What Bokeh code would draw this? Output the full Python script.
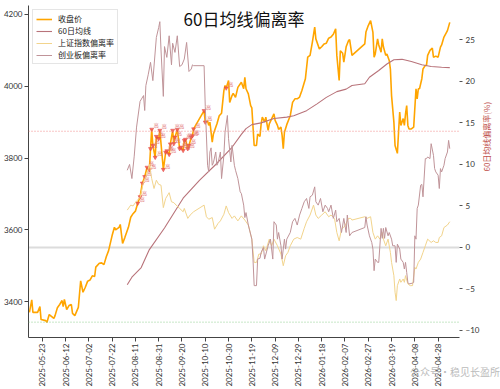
from math import pi
import numpy as np
import pandas as pd
from bokeh.plotting import figure
from bokeh.layouts import column
from bokeh.models import (Range1d, LinearAxis, FixedTicker, DatetimeTickFormatter,
                          Span, Label, Legend, LegendItem, Div)
from bokeh.core.properties import value
from bokeh.embed import file_html
from bokeh.resources import INLINE

# ---------------- data ----------------
close_dates = [
    "2025-05-12","2025-05-14","2025-05-15","2025-05-19","2025-05-21","2025-05-22","2025-05-26","2025-05-27","2025-05-29","2025-06-02",
    "2025-06-03","2025-06-05","2025-06-07","2025-06-09","2025-06-10","2025-06-11","2025-06-13","2025-06-15","2025-06-17","2025-06-18",
    "2025-06-20","2025-06-23","2025-06-25","2025-06-27","2025-06-29","2025-07-01","2025-07-03","2025-07-05","2025-07-07","2025-07-08",
    "2025-07-11","2025-07-13","2025-07-15","2025-07-17","2025-07-19","2025-07-22","2025-07-24","2025-07-25","2025-07-28","2025-07-29",
    "2025-07-31","2025-08-02","2025-08-05","2025-08-07","2025-08-09","2025-08-11","2025-08-13","2025-08-15","2025-08-17","2025-08-19",
    "2025-08-21","2025-08-23","2025-08-24","2025-08-25","2025-08-26","2025-08-28","2025-08-29","2025-08-31","2025-09-01","2025-09-04",
    "2025-09-06","2025-09-07","2025-09-09","2025-09-10","2025-09-12","2025-09-13","2025-09-14","2025-09-16","2025-09-18","2025-09-19",
    "2025-09-21","2025-09-22","2025-09-23","2025-09-25","2025-09-26","2025-09-28","2025-09-29","2025-09-30","2025-10-09","2025-10-10",
    "2025-10-12","2025-10-13","2025-10-14","2025-10-16","2025-10-17","2025-10-19","2025-10-20","2025-10-22","2025-10-24","2025-10-26",
    "2025-10-27","2025-10-28","2025-10-30","2025-10-31","2025-11-02","2025-11-03","2025-11-05","2025-11-07","2025-11-10","2025-11-12",
    "2025-11-13","2025-11-14","2025-11-16","2025-11-18","2025-11-19","2025-11-21","2025-11-23","2025-11-24","2025-11-26","2025-11-27",
    "2025-11-28","2025-11-30","2025-12-01","2025-12-03","2025-12-04","2025-12-06","2025-12-08","2025-12-09","2025-12-11","2025-12-12",
    "2025-12-14","2025-12-15","2025-12-16","2025-12-17","2025-12-19","2025-12-22","2025-12-24","2025-12-26","2025-12-28","2025-12-30",
    "2026-01-01","2026-01-04","2026-01-06","2026-01-08","2026-01-10","2026-01-12","2026-01-13","2026-01-16","2026-01-18","2026-01-20",
    "2026-01-22","2026-01-24","2026-01-26","2026-01-28","2026-01-30","2026-01-31","2026-02-02","2026-02-03","2026-02-05","2026-02-06",
    "2026-02-08","2026-02-10","2026-02-11","2026-02-13","2026-02-24","2026-02-25","2026-02-27","2026-03-01","2026-03-03","2026-03-04",
    "2026-03-05","2026-03-07","2026-03-08","2026-03-10","2026-03-11","2026-03-12","2026-03-14","2026-03-15","2026-03-17","2026-03-18",
    "2026-03-19","2026-03-21","2026-03-22","2026-03-24","2026-03-25","2026-03-26","2026-03-27","2026-03-29","2026-03-30","2026-03-31",
    "2026-04-01","2026-04-02","2026-04-03","2026-04-05","2026-04-07","2026-04-09","2026-04-10","2026-04-11","2026-04-12","2026-04-14",
    "2026-04-15","2026-04-17","2026-04-18","2026-04-19","2026-04-21","2026-04-23","2026-04-24","2026-04-26","2026-04-28","2026-04-30",
    "2026-05-01","2026-05-03","2026-05-06","2026-05-08"]
close_price = [
    3370,3405,3370,3370,3386,3350,3347,3342,3364,3353,
    3361,3383,3392,3403,3386,3406,3378,3389,3392,3367,
    3361,3384,3458,3426,3440,3457,3460,3472,3470,3496,
    3507,3508,3503,3525,3542,3584,3607,3600,3607,3615,
    3562,3579,3607,3635,3645,3652,3674,3692,3730,3748,
    3774,3767,3826,3880,3835,3802,3860,3854,3877,3768,
    3816,3820,3810,3839,3877,3840,3858,3879,3826,3830,
    3821,3849,3852,3826,3835,3858,3862,3881,3932,3900,
    3903,3891,3900,3844,3867,3886,3895,3918,3925,3988,
    4002,3995,4016,3955,3974,3980,3969,3997,4011,3993,
    4025,3993,3979,3946,3940,3835,3835,3867,3860,3895,
    3914,3900,3914,3877,3895,3909,3923,3905,3891,3880,
    3886,3863,3826,3872,3893,3918,3955,3965,3965,3970,
    3988,4021,4081,4086,4123,4165,4132,4104,4110,4118,
    4120,4134,4137,4145,4160,4086,4016,4099,4092,4067,
    4110,4127,4130,4086,4118,4151,4169,4183,4150,4081,
    4090,4132,4115,4095,4132,4110,4086,4090,4072,4048,
    3974,3900,3835,3813,3872,3928,3891,3910,3891,3923,
    3946,3891,3881,3881,3886,3993,3965,3993,3993,4021,
    4048,4058,4058,4086,4100,4106,4081,4084,4081,4109,
    4115,4137,4155,4178]

ma60_dates = ["2025-08-04","2025-08-08","2025-08-16","2025-08-23","2025-09-05","2025-09-21","2025-10-05","2025-10-19",
              "2025-11-02","2025-11-10","2025-11-14","2025-11-19","2025-11-27","2025-12-08","2025-12-19","2025-12-25",
              "2026-01-05","2026-01-14","2026-01-22","2026-01-31","2026-02-08","2026-02-13","2026-02-24","2026-02-28",
              "2026-03-08","2026-03-15","2026-03-21","2026-03-28","2026-04-05","2026-04-14","2026-04-22","2026-05-01","2026-05-08"]
ma60 = [3447,3468,3495,3545,3605,3688,3738,3782,
        3830,3866,3882,3893,3898,3910,3914,3918,
        3932,3951,3969,3985,3992,4002,4007,4025,
        4044,4062,4074,4075,4069,4060,4055,4053,4052]

sh_dates = [
    "2025-08-04","2025-08-07","2025-08-09","2025-08-12","2025-08-15","2025-08-18","2025-08-21","2025-08-23","2025-08-25","2025-08-27",
    "2025-08-29","2025-08-31","2025-09-02","2025-09-04","2025-09-06","2025-09-09","2025-09-11","2025-09-13","2025-09-15","2025-09-18",
    "2025-09-21","2025-09-22","2025-09-25","2025-09-27","2025-09-30","2025-10-09","2025-10-11","2025-10-13","2025-10-16","2025-10-18",
    "2025-10-21","2025-10-23","2025-10-26","2025-10-28","2025-10-30","2025-11-02","2025-11-04","2025-11-07","2025-11-10","2025-11-13",
    "2025-11-16","2025-11-19","2025-11-21","2025-11-23","2025-11-25","2025-11-27","2025-11-29","2025-12-01","2025-12-04","2025-12-06",
    "2025-12-08","2025-12-11","2025-12-14","2025-12-16","2025-12-18","2025-12-20","2025-12-22","2025-12-25","2025-12-28","2025-12-31",
    "2026-01-03","2026-01-05","2026-01-08","2026-01-11","2026-01-13","2026-01-15","2026-01-18","2026-01-21","2026-01-24","2026-01-26",
    "2026-01-29","2026-01-31","2026-02-02","2026-02-04","2026-02-07","2026-02-10","2026-02-12","2026-02-13","2026-02-24","2026-02-26",
    "2026-03-01","2026-03-03","2026-03-05","2026-03-07","2026-03-09","2026-03-11","2026-03-12","2026-03-14","2026-03-16","2026-03-18",
    "2026-03-19","2026-03-21","2026-03-22","2026-03-23","2026-03-24","2026-03-26","2026-03-27","2026-03-29","2026-03-30","2026-03-31",
    "2026-04-02","2026-04-04","2026-04-06","2026-04-08","2026-04-09","2026-04-11","2026-04-13","2026-04-15","2026-04-17","2026-04-19",
    "2026-04-22","2026-04-24","2026-04-26","2026-04-28","2026-04-29","2026-05-01","2026-05-03","2026-05-06","2026-05-08"]
sh_dev = [
    4.5,5.1,5.0,5.6,6.0,7.9,8.9,10.0,8.3,7.1,
    8.1,7.6,7.5,4.8,5.9,6.6,5.5,5.4,5.1,4.7,
    4.3,4.7,3.5,3.9,4.3,5.1,3.7,3.4,3.6,2.2,
    2.9,3.2,4.0,5.0,4.2,3.5,3.8,3.2,3.8,3.3,
    2.7,1.0,-1.8,-1.8,-0.8,-0.8,0.2,-0.4,1.0,0.2,
    1.0,0.2,-0.8,-2.2,-1.0,-0.6,0.2,1.0,1.2,1.0,
    2.3,3.1,3.9,5.1,3.9,3.5,3.9,4.3,3.7,3.9,
    3.5,1.8,0.8,2.2,2.6,3.5,3.5,3.3,3.7,3.5,
    3.7,1.8,1.0,1.4,1.0,1.8,1.0,0.2,1.0,-0.6,
    -1.8,-3.4,-5.4,-6.4,-4.6,-3.8,-4.2,-3.8,-4.2,-3.4,
    -4.4,-4.6,-4.6,-2.4,-2.6,-1.8,-1.4,-0.6,0.2,1.0,
    0.6,0.8,0.6,0.6,1.2,1.4,2.4,2.7,3.1]

cyb_dates = [
    "2025-08-04","2025-08-06","2025-08-08","2025-08-10","2025-08-12","2025-08-15","2025-08-18","2025-08-19","2025-08-20","2025-08-22",
    "2025-08-24","2025-08-26","2025-08-29","2025-08-31","2025-09-01","2025-09-02","2025-09-04","2025-09-05","2025-09-07","2025-09-09",
    "2025-09-11","2025-09-12","2025-09-14","2025-09-16","2025-09-18","2025-09-20","2025-09-22","2025-09-24","2025-09-26","2025-09-28",
    "2025-09-29","2025-09-30","2025-10-09","2025-10-10","2025-10-12","2025-10-13","2025-10-14","2025-10-15","2025-10-16","2025-10-17",
    "2025-10-19","2025-10-20","2025-10-21","2025-10-23","2025-10-24","2025-10-26","2025-10-27","2025-10-29","2025-10-30","2025-11-01",
    "2025-11-02","2025-11-04","2025-11-05","2025-11-07","2025-11-09","2025-11-10","2025-11-12","2025-11-13","2025-11-14","2025-11-16",
    "2025-11-19","2025-11-20","2025-11-21","2025-11-23","2025-11-24","2025-11-26","2025-11-27","2025-11-29","2025-11-30","2025-12-03",
    "2025-12-05","2025-12-07","2025-12-08","2025-12-10","2025-12-11","2025-12-12","2025-12-14","2025-12-15","2025-12-17","2025-12-18",
    "2025-12-19","2025-12-22","2025-12-24","2025-12-26","2025-12-28","2025-12-30","2026-01-01","2026-01-03","2026-01-05","2026-01-07",
    "2026-01-08","2026-01-10","2026-01-12","2026-01-13","2026-01-15","2026-01-17","2026-01-19","2026-01-21","2026-01-23","2026-01-24",
    "2026-01-26","2026-01-28","2026-01-30","2026-01-31","2026-02-02","2026-02-04","2026-02-06","2026-02-08","2026-02-09","2026-02-11",
    "2026-02-13","2026-02-24","2026-02-25","2026-02-26","2026-02-28","2026-03-02","2026-03-03","2026-03-04","2026-03-05","2026-03-07",
    "2026-03-08","2026-03-10","2026-03-11","2026-03-12","2026-03-13","2026-03-14","2026-03-16","2026-03-17","2026-03-19","2026-03-20",
    "2026-03-22","2026-03-23","2026-03-24","2026-03-26","2026-03-27","2026-03-29","2026-03-30","2026-03-31","2026-04-01","2026-04-02",
    "2026-04-03","2026-04-06","2026-04-07","2026-04-08","2026-04-09","2026-04-10","2026-04-11","2026-04-13","2026-04-14","2026-04-15",
    "2026-04-17","2026-04-18","2026-04-19","2026-04-21","2026-04-22","2026-04-24","2026-04-25","2026-04-26","2026-04-28","2026-04-29",
    "2026-04-30","2026-05-01","2026-05-03","2026-05-04","2026-05-06","2026-05-07","2026-05-08"]
cyb_dev = [
    9.3,10.0,8.3,11.0,14.5,17.6,18.3,16.5,19.5,20.8,
    22.3,20.1,25.3,26.5,27.2,23.8,18.2,24.2,22.9,25.5,
    22.0,24.6,23.5,25.5,21.8,22.0,22.7,24.7,21.2,21.5,
    22.0,21.9,21.9,17.0,9.9,9.1,11.5,12.0,9.9,10.2,
    11.5,9.9,10.2,11.5,8.3,11.1,13.9,15.9,13.1,10.3,
    12.3,9.9,9.3,8.3,6.7,6.5,5.1,3.6,4.2,2.7,
    1.0,-1.4,-4.6,-4.6,-1.4,-1.3,-0.6,0.0,-1.4,0.2,
    1.0,-1.4,3.1,2.7,1.0,1.8,0.2,-1.4,1.0,-0.2,
    1.0,1.8,3.1,3.5,2.7,3.9,4.7,5.5,5.9,4.7,
    6.1,6.3,7.3,5.5,5.1,5.9,4.3,5.1,4.7,4.3,
    5.1,3.5,4.5,3.1,3.5,1.8,3.5,1.8,3.9,1.4,
    1.8,2.4,3.7,2.7,1.4,0.6,-0.2,-2.8,-1.4,-1.8,
    -1.8,2.3,1.1,2.3,1.1,2.4,1.4,1.8,1.0,0.2,
    0.2,-1.8,0.4,-0.2,-1.4,-1.8,-2.6,-1.8,-3.0,-4.2,
    -4.4,-4.3,-4.2,1.4,1.0,4.7,5.1,7.5,7.6,6.1,
    10.7,10.7,10.9,10.7,12.5,11.1,9.5,9.1,8.7,7.1,
    9.5,9.1,9.9,10.7,11.5,12.9,11.9]

upper_line = 14      # red dotted threshold (right axis)
lower_line = -9      # green dotted threshold (right axis)
zero_line = 0

x_tick_dates = ["2025-05-23","2025-06-12","2025-07-02","2025-07-22","2025-08-11","2025-08-31","2025-09-20",
                "2025-10-10","2025-10-30","2025-11-19","2025-12-09","2025-12-29","2026-01-18","2026-02-07",
                "2026-02-27","2026-03-19","2026-04-08","2026-04-28"]
left_ticks = [3400, 3600, 3800, 4000, 4200]
right_ticks = [-10, -5, 0, 5, 10, 15, 20, 25]

x_start = pd.Timestamp("2025-05-11 04:48")
x_end = pd.Timestamp("2026-05-16 08:24")

CJK = "Noto Sans CJK SC"
TICKFONT = "Lato"

# ---------------- figure ----------------
p = figure(width=500, height=389, x_axis_type="datetime", output_backend="svg",
           toolbar_location=None,
           x_range=Range1d(x_start, x_end), y_range=Range1d(3300, 4225),
           min_border_left=28, min_border_right=33, min_border_top=5, min_border_bottom=52)
p.extra_y_ranges = {"dev": Range1d(-10.85, 29.15)}
p.outline_line_color = None
p.grid.visible = False
p.background_fill_color = "white"
p.border_fill_color = "white"

# reference lines
p.add_layout(Span(location=zero_line, dimension="width", y_range_name="dev",
                  line_color="#dcdcdc", line_width=2, level="underlay"))
p.add_layout(Span(location=upper_line, dimension="width", y_range_name="dev",
                  line_color="#f08a8a", line_dash="1 2", line_width=1))
p.add_layout(Span(location=lower_line, dimension="width", y_range_name="dev",
                  line_color="#8fce8f", line_dash="1 2", line_width=1))

cd = pd.to_datetime(close_dates)
r_close = p.line(cd, close_price, line_color="#FFA500", line_width=1.6)
r_ma = p.line(pd.to_datetime(ma60_dates), ma60, line_color="#b8737a", line_width=1.1)

# markers where ChiNext deviation above upper threshold
cyd = pd.to_datetime(cyb_dates)
cy_at_close = np.interp(cd.values.astype("int64"), cyd.values.astype("int64"), cyb_dev,
                        left=np.nan, right=np.nan)
mask = np.nan_to_num(cy_at_close, nan=-99) > upper_line
mx = cd[mask]
my = np.array(close_price)[mask]
p.scatter(mx, my, marker="inverted_triangle", size=4, fill_color="#f25a50",
          line_color="#e04040", line_width=0.5, fill_alpha=0.85)
p.text(mx, my, text=["高"] * int(mask.sum()), text_font_size="5px", x_offset=2, y_offset=-1,
       text_color="#e07070", text_font=value(CJK), text_baseline="bottom")

r_sh = p.line(pd.to_datetime(sh_dates), sh_dev, y_range_name="dev",
              line_color="#f2d48c", line_width=1)
r_cy = p.line(cyd, cyb_dev, y_range_name="dev", line_color="#c09499", line_width=1)

# ---------------- axes ----------------
xa = p.xaxis[0]
xa.ticker = FixedTicker(ticks=[pd.Timestamp(d).value / 1e6 for d in x_tick_dates])
xa.formatter = DatetimeTickFormatter(days="%Y-%m-%d", months="%Y-%m-%d", years="%Y-%m-%d")
xa.major_label_orientation = pi / 2
xa.major_label_text_font_size = "8px"
xa.major_label_text_font = TICKFONT
xa.major_label_text_color = "#333333"
xa.axis_line_color = "#444444"
xa.major_tick_line_color = "#444444"
xa.major_tick_out = 4
xa.major_tick_in = 0
xa.minor_tick_out = 0
xa.minor_tick_in = 0
xa.major_label_standoff = 2

ya = p.yaxis[0]
ya.ticker = FixedTicker(ticks=left_ticks)
ya.major_label_text_font_size = "8px"
ya.major_label_text_font = TICKFONT
ya.major_label_text_color = "#333333"
ya.axis_line_color = "#444444"
ya.major_tick_line_color = "#444444"
ya.major_tick_out = 4
ya.major_tick_in = 0
ya.minor_tick_out = 0
ya.minor_tick_in = 0
ya.major_label_standoff = 2

ra = LinearAxis(y_range_name="dev", ticker=FixedTicker(ticks=right_ticks),
                axis_label="60日均线偏离率(%)")
ra.axis_line_color = None
ra.major_tick_line_color = "#555555"
ra.major_tick_out = 3
ra.major_tick_in = 0
ra.minor_tick_out = 0
ra.minor_tick_in = 0
ra.major_label_standoff = 3
ra.major_label_text_font_size = "8px"
ra.major_label_text_font = TICKFONT
ra.major_label_text_color = "#333333"
ra.axis_label_text_font = CJK
ra.axis_label_text_font_size = "8px"
ra.axis_label_text_font_style = "normal"
ra.axis_label_text_color = "#c0504d"
ra.axis_label_standoff = 4
ra.axis_label_orientation = pi / 2
p.add_layout(ra, "right")

# ---------------- legend ----------------
legend = Legend(items=[LegendItem(label="收盘价", renderers=[r_close]),
                       LegendItem(label="60日均线", renderers=[r_ma]),
                       LegendItem(label="上证指数偏离率", renderers=[r_sh]),
                       LegendItem(label="创业板偏离率", renderers=[r_cy])],
                location="top_left")
legend.margin = 4
legend.padding = 3
legend.spacing = 1
legend.label_text_font = CJK
legend.label_text_font_size = "8px"
legend.label_text_color = "#222222"
legend.glyph_width = 16
legend.glyph_height = 10
legend.label_height = 10
legend.label_standoff = 6
legend.border_line_color = "#cccccc"
legend.background_fill_alpha = 0.85
p.add_layout(legend)

# ---------------- title ----------------
mid = x_start + (x_end - x_start) / 2
p.add_layout(Label(x=mid.value / 1e6, y=4189, text="60日均线偏离率", text_align="center",
                   text_baseline="middle", text_font_size="17px", text_font=CJK,
                   text_color="#111111"))

# watermark overlapping the bottom-right corner
wm = Div(text="公众号·稳见长盈所", width=90, height=14,
         styles={"margin-top": "-24px", "margin-left": "410px", "color": "#bbbbbb",
                 "font-size": "10px", "font-family": "Noto Sans CJK SC",
                 "position": "relative", "z-index": "10", "white-space": "nowrap"})

layout = column(p, wm, spacing=0)
open("out.html", "w").write(file_html(layout, INLINE))
